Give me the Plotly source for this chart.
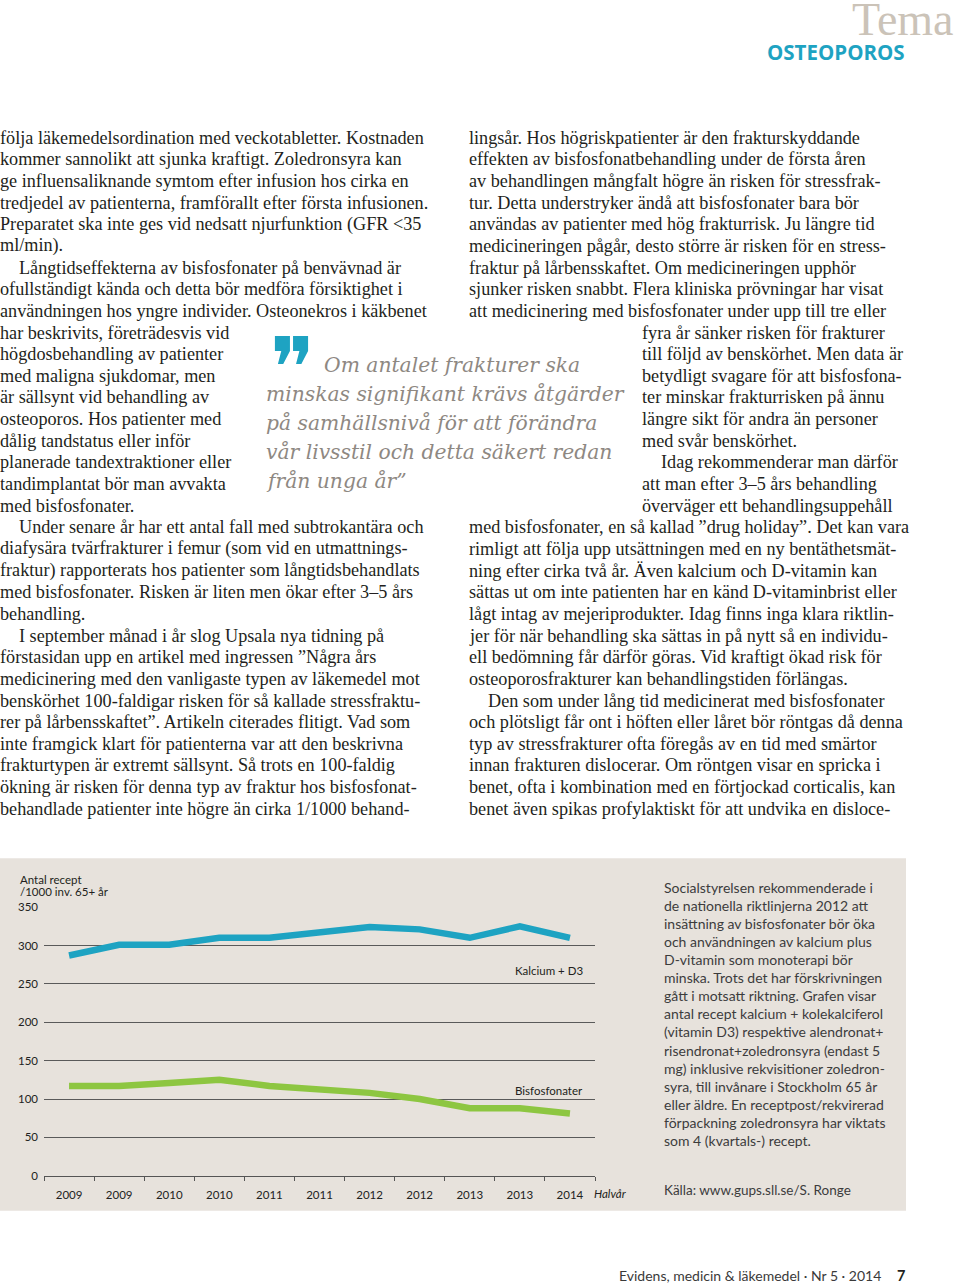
import plotly.graph_objects as go

# ---------------- data ----------------
periods = ["2009", "2009", "2010", "2010", "2011", "2011", "2012", "2012", "2013", "2013", "2014"]
kalcium_d3 = [287, 301, 301, 310, 310, 317, 324, 321, 310, 325, 310]
bisfosfonater = [117, 117, 121, 125, 117, 113, 108, 100, 88, 88, 81]
y_ticks = [0, 50, 100, 150, 200, 250, 300, 350]

left_col = [
    "följa läkemedelsordination med veckotabletter. Kostnaden",
    "kommer sannolikt att sjunka kraftigt. Zoledronsyra kan",
    "ge influensaliknande symtom efter infusion hos cirka en",
    "tredjedel av patienterna, framförallt efter första infusionen.",
    "Preparatet ska inte ges vid nedsatt njurfunktion (GFR <35",
    "ml/min).",
    "\tLångtidseffekterna av bisfosfonater på benvävnad är",
    "ofullständigt kända och detta bör medföra försiktighet i",
    "användningen hos yngre individer. Osteonekros i käkbenet",
    "har beskrivits, företrädesvis vid",
    "högdosbehandling av patienter",
    "med maligna sjukdomar, men",
    "är sällsynt vid behandling av",
    "osteoporos. Hos patienter med",
    "dålig tandstatus eller inför",
    "planerade tandextraktioner eller",
    "tandimplantat bör man avvakta",
    "med bisfosfonater.",
    "\tUnder senare år har ett antal fall med subtrokantära och",
    "diafysära tvärfrakturer i femur (som vid en utmattnings-",
    "fraktur) rapporterats hos patienter som långtidsbehandlats",
    "med bisfosfonater. Risken är liten men ökar efter 3–5 års",
    "behandling.",
    "\tI september månad i år slog Upsala nya tidning på",
    "förstasidan upp en artikel med ingressen ”Några års",
    "medicinering med den vanligaste typen av läkemedel mot",
    "benskörhet 100-faldigar risken för så kallade stressfraktu-",
    "rer på lårbensskaftet”. Artikeln citerades flitigt. Vad som",
    "inte framgick klart för patienterna var att den beskrivna",
    "frakturtypen är extremt sällsynt. Så trots en 100-faldig",
    "ökning är risken för denna typ av fraktur hos bisfosfonat-",
    "behandlade patienter inte högre än cirka 1/1000 behand-",
]

right_col = [
    "lingsår. Hos högriskpatienter är den frakturskyddande",
    "effekten av bisfosfonatbehandling under de första åren",
    "av behandlingen mångfalt högre än risken för stressfrak-",
    "tur. Detta understryker ändå att bisfosfonater bara bör",
    "användas av patienter med hög frakturrisk. Ju längre tid",
    "medicineringen pågår, desto större är risken för en stress-",
    "fraktur på lårbensskaftet. Om medicineringen upphör",
    "sjunker risken snabbt. Flera kliniska prövningar har visat",
    "att medicinering med bisfosfonater under upp till tre eller",
    "fyra år sänker risken för frakturer",
    "till följd av benskörhet. Men data är",
    "betydligt svagare för att bisfosfona-",
    "ter minskar frakturrisken på ännu",
    "längre sikt för andra än personer",
    "med svår benskörhet.",
    "\tIdag rekommenderar man därför",
    "att man efter 3–5 års behandling",
    "överväger ett behandlingsuppehåll",
    "med bisfosfonater, en så kallad ”drug holiday”. Det kan vara",
    "rimligt att följa upp utsättningen med en ny bentäthetsmät-",
    "ning efter cirka två år. Även kalcium och D-vitamin kan",
    "sättas ut om inte patienten har en känd D-vitaminbrist eller",
    "lågt intag av mejeriprodukter. Idag finns inga klara riktlin-",
    "jer för när behandling ska sättas in på nytt så en individu-",
    "ell bedömning får därför göras. Vid kraftigt ökad risk för",
    "osteoporosfrakturer kan behandlingstiden förlängas.",
    "\tDen som under lång tid medicinerat med bisfosfonater",
    "och plötsligt får ont i höften eller låret bör röntgas då denna",
    "typ av stressfrakturer ofta föregås av en tid med smärtor",
    "innan frakturen dislocerar. Om röntgen visar en spricka i",
    "benet, ofta i kombination med en förtjockad corticalis, kan",
    "benet även spikas profylaktiskt för att undvika en disloce-",
]

quote_mark = "❞"
quote_lines = [
    "Om antalet frakturer ska",
    "minskas signifikant krävs åtgärder",
    "på samhällsnivå för att förändra",
    "vår livsstil och detta säkert redan",
    "från unga år”",
]

caption_lines = [
    "Socialstyrelsen rekommenderade i",
    "de nationella riktlinjerna 2012 att",
    "insättning av bisfosfonater bör öka",
    "och användningen av kalcium plus",
    "D-vitamin som monoterapi bör",
    "minska. Trots det har förskrivningen",
    "gått i motsatt riktning. Grafen visar",
    "antal recept kalcium + kolekalciferol",
    "(vitamin D3) respektive alendronat+",
    "risendronat+zoledronsyra (endast 5",
    "mg) inklusive rekvisitioner zoledron-",
    "syra, till invånare i Stockholm 65 år",
    "eller äldre. En receptpost/rekvirerad",
    "förpackning zoledronsyra har viktats",
    "som 4 (kvartals-) recept.",
]

source_text = "Källa: www.gups.sll.se/S. Ronge"
y_title = ["Antal recept", "/1000 inv. 65+ år"]
series_names = ["Kalcium + D3", "Bisfosfonater"]
x_unit = "Halvår"

# ---------------- layout helpers ----------------
W, H = 960, 1286


def px(x, y):
    return x / W, 1 - y / H


SERIF = "Liberation Serif"
SANS = "Lato"
BODY_COLOR = "#231f20"
TEAL = "#1ea3c2"
GREEN = "#8dc641"
PANEL = "#e7e2dc"

fig = go.Figure()
xs = list(range(len(periods)))
fig.add_trace(go.Scatter(x=xs, y=kalcium_d3, mode="lines", name=series_names[0],
                         line=dict(color=TEAL, width=6.5), showlegend=False, hoverinfo="skip"))
fig.add_trace(go.Scatter(x=xs, y=bisfosfonater, mode="lines", name=series_names[1],
                         line=dict(color=GREEN, width=6.5), showlegend=False, hoverinfo="skip"))

ann = []


def text(x, y, s, size, color=BODY_COLOR, family=SERIF, xanchor="left", style="normal", weight="normal"):
    X, Y = px(x, y)
    ann.append(dict(x=X, y=Y, xref="paper", yref="paper", text=s, showarrow=False,
                    xanchor=xanchor, yanchor="middle", borderpad=0,
                    font=dict(size=size, color=color, family=family, style=style, weight=weight)))


LH = 21.87
Y0 = 132
BODY = 18.2
# left column
for i, line in enumerate(left_col):
    indent = 19 if line.startswith("\t") else 0
    text(-1 + indent, Y0 + i * LH, line.lstrip("\t"), BODY)
# right column
for i, line in enumerate(right_col):
    x0 = 642 if 9 <= i <= 17 else 469
    indent = 19 if line.startswith("\t") else 0
    text(x0 - 1 + indent, Y0 + i * LH, line.lstrip("\t"), BODY)

# pull quote
text(269, 365, quote_mark, 84, color=TEAL, family="DejaVu Sans")
for i, line in enumerate(quote_lines):
    x0 = 323 if i == 0 else 265
    text(x0, 362 + i * 29.3, line, 20.3, color="#8e8882", family="DejaVu Serif", style="italic")

# header
text(955, 13, "Tema", 46, color="#cbc3b8", family=SERIF, xanchor="right")
text(906, 45, "OSTEOPOROS", 20.5, color=TEAL, family="Open Sans", xanchor="right", weight="bold")

# footer
text(882, 1281, "Evidens, medicin &amp; läkemedel · Nr 5 · 2014", 14, color="#3a3a3a", family=SANS, xanchor="right")
text(906, 1281, "7", 14.5, color="#231f20", family=SANS, xanchor="right", weight="bold")

# chart texts
text(19, 881, y_title[0], 11.5, family=SANS)
text(19, 894, y_title[1], 11.5, family=SANS)
text(514, 973, series_names[0], 11.5, family=SANS)
text(514, 1095, series_names[1], 11.5, family=SANS)
text(593, 1199, x_unit, 11.5, family=SANS, style="italic")
for i, line in enumerate(caption_lines):
    text(663, 889 + i * 18.3, line, 14, color="#3c3c3c", family=SANS)
text(663, 1195, source_text, 13.5, color="#3c3c3c", family=SANS)

x0d, _ = px(44, 0)
x1d, _ = px(595, 0)
_, yb = px(0, 1180.7)
_, yt = px(0, 909.3)

fig.update_layout(
    width=W, height=H,
    margin=dict(l=0, r=0, t=0, b=0),
    paper_bgcolor="white",
    plot_bgcolor="rgba(0,0,0,0)",
    annotations=ann,
    shapes=[dict(type="rect", xref="paper", yref="paper",
                 x0=0, x1=906 / W, y0=1 - 1216 / H, y1=1 - 860 / H,
                 fillcolor=PANEL, line=dict(width=0), layer="below")],
    xaxis=dict(domain=[x0d, x1d], range=[-0.5, len(periods) - 0.5],
               tickmode="array", tickvals=xs, ticktext=periods, ticks="",
               ticklabelstandoff=8,
               tickfont=dict(family=SANS, size=11.5, color="#222"),
               showgrid=False, zeroline=False, showline=True, linecolor="#555", linewidth=1,
               minor=dict(tickmode="array", tickvals=[v - 0.5 for v in range(len(periods) + 1)],
                          ticks="outside", ticklen=4, tickcolor="#555", showgrid=False),
               fixedrange=True),
    yaxis=dict(domain=[yb, yt], range=[0, 350], tickmode="array", tickvals=y_ticks,
               ticktext=[str(v) for v in y_ticks], showgrid=True, gridcolor="#5a5a5a", gridwidth=1,
               zeroline=False, showline=False, ticks="", ticklabelstandoff=5,
               tickfont=dict(family=SANS, size=11.5, color="#222"), fixedrange=True),
)

fig.write_html("out.html", config={"displayModeBar": False},
               post_script="document.body.style.margin='0';document.body.style.padding='0';")
